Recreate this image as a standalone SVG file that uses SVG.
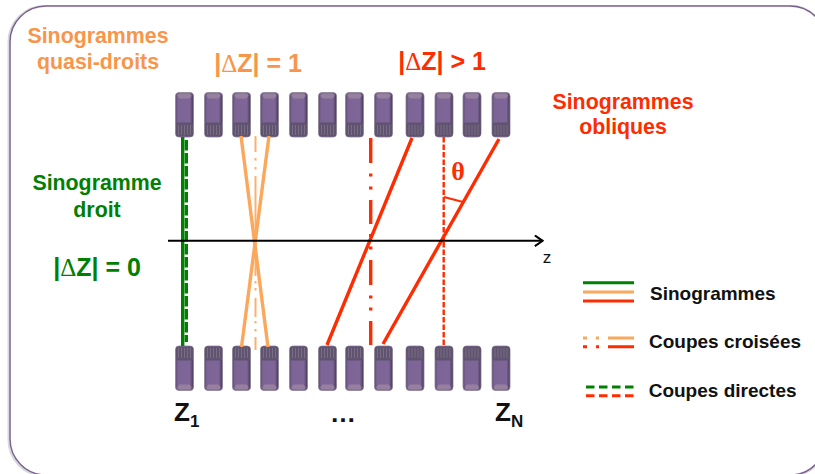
<svg xmlns="http://www.w3.org/2000/svg" width="815" height="474" viewBox="0 0 815 474">
<defs>
<linearGradient id="body" x1="0" y1="0" x2="1" y2="0"><stop offset="0" stop-color="#5c4b70"/><stop offset="0.14" stop-color="#7d6496"/><stop offset="0.8" stop-color="#7f6698"/><stop offset="1" stop-color="#453756"/></linearGradient>
<g id="det">
<rect x="-9" y="0.500" width="18" height="44.500" rx="3.500" fill="url(#body)" stroke="#8c8494" stroke-width="0.800"/>
<path d="M-7 4 Q-7 1.500 -4 1.500 L4 1.500 Q7 1.500 7 4 L5 6.500 L-5 6.500Z" fill="#97809f"/>
<rect x="-8.500" y="30.500" width="17" height="14" rx="2" fill="#5f5370"/>
<path d="M-6 33V43M-3 33V43M0 33V43M3 33V43M6 33V43" stroke="#7f7589" stroke-width="0.800"/>
</g>
<g id="detb"><use href="#det" transform="scale(1,-1)"/></g>
<marker id="arr" viewBox="0 0 10 10" refX="9.300" refY="5" markerWidth="12" markerHeight="12" markerUnits="userSpaceOnUse" orient="auto"><path d="M2.500 0.500L9 5L2.500 9.500" fill="none" stroke="#000" stroke-width="1.700"/></marker>
</defs>
<style>
text{font-family:"Liberation Sans",Arial,sans-serif;font-weight:bold}
.d{font-family:"Liberation Serif",serif;font-weight:normal}
.o{fill:#f9954a}.r{fill:#fe2c00}.g{fill:#008000}.k{fill:#111}
.lo{stroke:#fba85c;stroke-width:3.400;fill:none}
.lr{stroke:#fe2c00;stroke-width:3.400;fill:none}
.lg{stroke:#008000;stroke-width:3.400;fill:none}
</style>
<rect x="8.500" y="6" width="818" height="470" rx="36" fill="none" stroke="#d9d9d9" stroke-width="2"/>
<rect x="10" y="6" width="816" height="469" rx="36" fill="#fff" stroke="#7a6192" stroke-width="1.500"/>
<g id="detectors-top">
<use href="#det" x="184.500" y="92"/><use href="#det" x="213.500" y="92"/><use href="#det" x="241.500" y="92"/><use href="#det" x="269.500" y="92"/><use href="#det" x="298.500" y="92"/><use href="#det" x="327.500" y="92"/><use href="#det" x="354.500" y="92"/><use href="#det" x="383.500" y="92"/><use href="#det" x="415" y="92"/><use href="#det" x="444" y="92"/><use href="#det" x="472" y="92"/><use href="#det" x="501" y="92"/>
</g>
<g id="detectors-bottom">
<use href="#detb" x="184.500" y="391"/><use href="#detb" x="213.500" y="391"/><use href="#detb" x="241.500" y="391"/><use href="#detb" x="269.500" y="391"/><use href="#detb" x="298.500" y="391"/><use href="#detb" x="327.500" y="391"/><use href="#detb" x="354.500" y="391"/><use href="#detb" x="383.500" y="391"/><use href="#detb" x="415" y="391"/><use href="#detb" x="444" y="391"/><use href="#detb" x="472" y="391"/><use href="#detb" x="501" y="391"/>
</g>
<g id="connectors">
<path d="M182.700 137V346" class="lg"/>
<path d="M186.300 140V342" class="lg" stroke-width="3" stroke-dasharray="10.500 2.500"/>
<path d="M255.500 136V152M255.500 158V160.500M255.500 167V169.500M255.500 176V276M255.500 281V283.500M255.500 288V290.500M255.500 298V317M255.500 321V323.500M255.500 329V331.500M255.500 337V350" stroke="#fbb070" stroke-width="2" fill="none"/>
<path d="M241 136L268 347" class="lo"/>
<path d="M269 136L241.500 347" class="lo"/>
<path d="M370.700 138V163M370.700 173.500V176.500M370.700 186.500V189.500M370.700 200V224M370.700 234V237M370.700 246.500V249.500M370.700 260V285M370.700 295.500V298.500M370.700 307.500V310.500M370.700 321V345" class="lr"/>
<path d="M412 138L327 345" class="lr"/>
<path d="M499 139L383 344" class="lr"/>
<path d="M443.700 137V345" stroke="#fe2c00" stroke-width="2.400" fill="none" stroke-dasharray="5.500 2"/>
<path d="M444 197L463 202" stroke="#fe2c00" stroke-width="2" fill="none"/>
<path d="M168 240.800H543" stroke="#000" stroke-width="2" fill="none" marker-end="url(#arr)"/>
</g>
<g id="labels">
<text x="98" y="43" text-anchor="middle" font-size="21.330" class="o">Sinogrammes</text>
<text x="98" y="69" text-anchor="middle" font-size="21.330" class="o">quasi-droits</text>
<text x="258" y="72" text-anchor="middle" font-size="25" class="o">|<tspan class="d">Δ</tspan>Z| = 1</text>
<text x="442" y="70" text-anchor="middle" font-size="25" class="r">|<tspan class="d">Δ</tspan>Z| &gt; 1</text>
<text x="623" y="109" text-anchor="middle" font-size="21.330" class="r">Sinogrammes</text>
<text x="623" y="134" text-anchor="middle" font-size="21.330" class="r">obliques</text>
<text x="97" y="190" text-anchor="middle" font-size="21.330" class="g">Sinogramme</text>
<text x="97" y="217" text-anchor="middle" font-size="21.330" class="g">droit</text>
<text x="97" y="276" text-anchor="middle" font-size="25" class="g">|<tspan class="d">Δ</tspan>Z| = 0</text>
<text x="458" y="180" text-anchor="middle" font-size="26" class="r" style="font-family:'Liberation Serif',serif">θ</text>
<text x="547" y="263" text-anchor="middle" font-size="17" style="font-weight:normal" class="k">z</text>
<text x="174" y="421" font-size="26" class="k">Z<tspan font-size="17" dy="6">1</tspan></text>
<text x="343" y="422" text-anchor="middle" font-size="26" class="k">…</text>
<text x="495" y="421" font-size="26" class="k">Z<tspan font-size="17" dy="6">N</tspan></text>
</g>
<g id="legend">
<path d="M583 282.700H634" stroke="#008000" stroke-width="3"/>
<path d="M583 292H634" stroke="#fba85c" stroke-width="3"/>
<path d="M583 301H634" stroke="#fe2c00" stroke-width="3"/>
<path d="M583 338H587M596 338H599M608 338H634" stroke="#fba85c" stroke-width="3"/>
<path d="M583 346.700H587M596 346.700H599M608 346.700H634" stroke="#fe2c00" stroke-width="3"/>
<path d="M586 387H634" stroke="#008000" stroke-width="3" stroke-dasharray="8.500 4.500"/>
<path d="M586 395.700H634" stroke="#fe2c00" stroke-width="3" stroke-dasharray="8.500 4.500"/>
<text x="650" y="300" font-size="19" class="k">Sinogrammes</text>
<text x="649" y="348" font-size="19" class="k">Coupes croisées</text>
<text x="648.700" y="396.500" font-size="19" class="k">Coupes directes</text>
</g>
</svg>
